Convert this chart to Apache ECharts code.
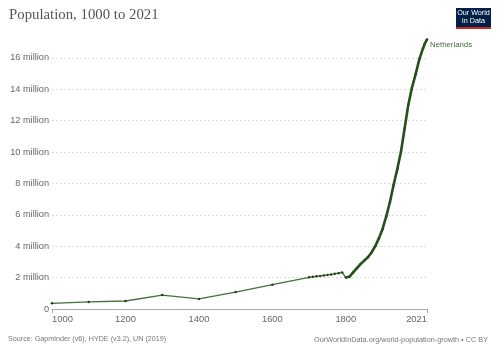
<!DOCTYPE html>
<html>
<head>
<meta charset="utf-8">
<script src="https://cdn.jsdelivr.net/npm/echarts@6/dist/echarts.min.js"></script>
<style>
  html, body { margin: 0; padding: 0; background: #fff; }
  #chart { width: 500px; height: 353px; }
</style>
</head>
<body>
<div id="chart"></div>
<script>
// Netherlands population
var years = [1000, 1100, 1200, 1300, 1400, 1500, 1600, 1700, 1710, 1720, 1730, 1740, 1750, 1760, 1770, 1780, 1790,
    1800, 1810, 1820, 1830, 1840, 1850, 1860, 1870, 1880, 1890, 1900, 1910, 1920, 1930, 1940, 1950, 1960, 1970, 1980, 1990, 2000, 2010, 2015, 2021];
var population = [0.36, 0.45, 0.51, 0.89, 0.64, 1.08, 1.55, 2.02, 2.05, 2.08, 2.11, 2.14, 2.17, 2.2, 2.24, 2.28, 2.33,
    2.0, 2.06, 2.33, 2.6, 2.86, 3.08, 3.3, 3.6, 4.0, 4.5, 5.1, 5.9, 6.8, 7.9, 8.9, 10.0, 11.5, 13.0, 14.1, 14.95, 15.9, 16.6, 16.9, 17.17];
var xTickLabels = [1000, 1200, 1400, 1600, 1800, 2021];

var allData = [];
var modernData = [];
for (var i = 0; i < years.length; i++) {
    allData.push([years[i], population[i] * 1e6]);
    if (years[i] >= 1800) {
        modernData.push([years[i], population[i] * 1e6]);
    }
}

var sans = 'Liberation Sans';
var chart = echarts.init(document.getElementById('chart'));
var option = {
    animation: false,
    title: [{
        text: 'Population, 1000 to 2021',
        left: 9,
        top: 8,
        padding: 0,
        textStyle: {
            fontFamily: 'Liberation Serif',
            fontWeight: 'normal',
            fontSize: 14.8,
            color: '#555'
        }
    }, {
        text: 'Source: Gapminder (v6), HYDE (v3.2), UN (2019)',
        left: 8,
        top: 336,
        padding: 0,
        textStyle: { fontFamily: sans, fontWeight: 'normal', fontSize: 7.2, color: '#777' }
    }, {
        text: 'OurWorldInData.org/world-population-growth • CC BY',
        right: 12,
        top: 336,
        padding: 0,
        textStyle: { fontFamily: sans, fontWeight: 'normal', fontSize: 7.3, color: '#777' }
    }],
    graphic: [{
        type: 'rect',
        shape: { x: 456, y: 8, width: 35, height: 21 },
        style: { fill: '#002147' }
    }, {
        type: 'rect',
        shape: { x: 456, y: 27, width: 35, height: 2 },
        style: { fill: '#ce261e' }
    }, {
        type: 'text',
        style: {
            x: 473.5, y: 17, text: 'Our World\nin Data', align: 'center', verticalAlign: 'middle',
            fill: '#fff', fontFamily: sans, fontSize: 7.2, lineHeight: 8
        }
    }],
    grid: {
        left: 52,
        right: 73,
        top: 39,
        bottom: 44,
        containLabel: false
    },
    xAxis: {
        type: 'value',
        min: 1000,
        max: 2021,
        axisLine: { show: true, lineStyle: { color: '#aaa', width: 1 } },
        axisTick: { show: true, length: 4, customValues: [1000, 2021], lineStyle: { color: '#aaa' } },
        splitLine: { show: false },
        axisLabel: {
            customValues: xTickLabels,
            alignMinLabel: 'left',
            alignMaxLabel: 'right',
            color: '#666',
            fontFamily: sans,
            fontSize: 9.4,
            margin: 6,
            formatter: function (v) { return String(v); }
        }
    },
    yAxis: {
        type: 'value',
        min: 0,
        max: 17.2e6,
        interval: 2e6,
        axisLine: { show: false },
        axisTick: { show: false },
        splitLine: {
            show: true,
            showMaxLine: false,
            showMinLine: false,
            lineStyle: { color: '#ddd', type: [2, 2], width: 1 }
        },
        axisLabel: {
            showMaxLabel: false,
            color: '#666',
            fontFamily: sans,
            fontSize: 9.2,
            margin: 3,
            formatter: function (v) {
                return v === 0 ? '0' : (v / 1e6) + ' million';
            }
        }
    },
    series: [{
        type: 'line',
        data: allData,
        symbol: 'circle',
        symbolSize: 2.5,
        showSymbol: true,
        lineStyle: { color: '#43703a', width: 1.3 },
        itemStyle: { color: '#1f4514' },
        z: 2
    }, {
        type: 'line',
        data: modernData,
        symbol: 'none',
        lineStyle: { color: '#24511a', width: 2.6 },
        endLabel: {
            show: true,
            formatter: 'Netherlands',
            color: '#3f6e31',
            fontFamily: sans,
            fontSize: 7.8,
            distance: 3,
            offset: [0, 5]
        },
        z: 3
    }]
};
chart.setOption(option);
</script>
</body>
</html>
